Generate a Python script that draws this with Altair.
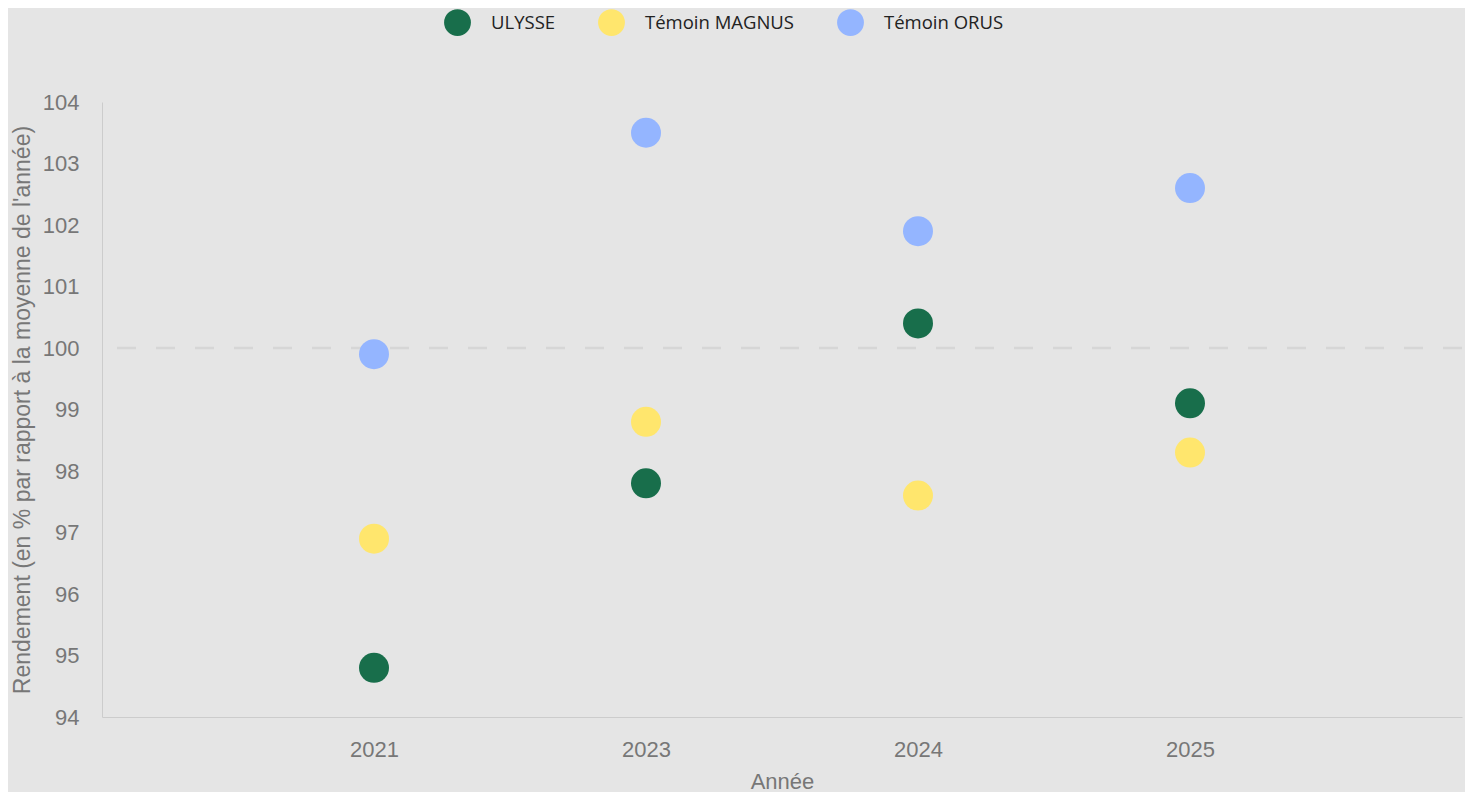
import altair as alt
import pandas as pd

years = ["2021", "2023", "2024", "2025"]
series = ["ULYSSE", "Témoin MAGNUS", "Témoin ORUS"]
ulysse = [94.8, 97.8, 100.4, 99.1]
magnus = [96.9, 98.8, 97.6, 98.3]
orus = [99.9, 103.5, 101.9, 102.6]
colors = ["#186e4b", "#ffe66d", "#94b5ff"]
y_ticks = [94, 95, 96, 97, 98, 99, 100, 101, 102, 103, 104]
ref_value = [100]

rows = []
for name, vals in zip(series, [ulysse, magnus, orus]):
    for yr, v in zip(years, vals):
        rows.append({"Année": yr, "Série": name, "Valeur": v})
df = pd.DataFrame(rows)
ref_df = pd.DataFrame({"ref": ref_value})

W, H = 1360, 615
GREY = "#777777"

x_enc = alt.X(
    "Année:N",
    sort=years,
    scale=alt.Scale(type="point", padding=1),
    axis=alt.Axis(
        title="Année", labelAngle=0, labelFont="Liberation Sans", labelFontSize=22,
        labelColor=GREY, labelPadding=22, ticks=False, grid=False,
        domainColor="#cccccc", titleFont="Liberation Sans", titleFontSize=22,
        titleFontWeight="normal", titleColor=GREY, titlePadding=11,
    ),
)
y_scale = alt.Scale(domain=[94, 104], nice=False, zero=False)

rule = alt.Chart(ref_df).mark_rule(
    color="#d6d6d6", strokeWidth=2.5, strokeDash=[19, 20]
).encode(y=alt.Y("ref:Q", scale=y_scale))

points = alt.Chart(df).mark_circle(size=900, opacity=1).encode(
    x=x_enc,
    y=alt.Y(
        "Valeur:Q",
        scale=y_scale,
        axis=alt.Axis(
            values=y_ticks, format="d",
            title="Rendement (en % par rapport à la moyenne de l'année)",
            labelFont="Liberation Sans", labelFontSize=22, labelColor=GREY,
            labelPadding=23, ticks=False, grid=False, domainColor="#cccccc",
            titleFont="Liberation Sans", titleFontSize=23, titleFontWeight="normal",
            titleColor=GREY, titleX=-80, titleY=H / 2, titleAngle=-90,
            titleAlign="center", titleBaseline="middle",
        ),
    ),
    color=alt.Color(
        "Série:N",
        sort=series,
        scale=alt.Scale(domain=series, range=colors),
        legend=alt.Legend(
            title=None, orient="none", direction="horizontal",
            legendX=342, legendY=-93, symbolSize=720, symbolType="circle",
            symbolStrokeWidth=0, labelFont="Open Sans", labelFontSize=18.5,
            labelColor="#222222", labelOffset=20, columnPadding=42, padding=0,
        ),
    ),
    order=alt.Order("Série:N"),
)

chart = alt.layer(rule, points).properties(
    width=W, height=H, background="#e5e5e5",
    padding={"left": 94, "top": 94, "right": 3, "bottom": 75},
    autosize=alt.AutoSizeParams(type="none"),
).configure_view(stroke=None, fill="#e5e5e5")

chart.save("out.html", embed_options={"renderer": "svg", "actions": False})
